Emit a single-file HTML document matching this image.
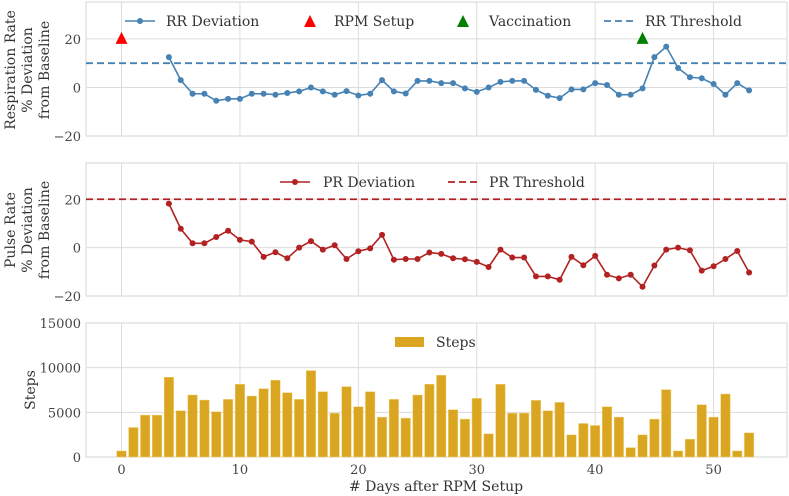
<!DOCTYPE html>
<html><head><meta charset="utf-8"><style>
body{margin:0;background:#fff}
svg{display:block;font-family:"DejaVu Serif","Liberation Serif",serif}
</style></head><body>
<svg id="chart" width="789" height="496" viewBox="0 0 789 496" xmlns="http://www.w3.org/2000/svg"></svg>
<script>
const days = Array.from({length:54},(_,i)=>i);
const rrDays = days.slice(4);
const rrValues = [12.5,3,-2.6,-2.6,-5.5,-4.7,-4.7,-2.6,-2.6,-3,-2.3,-1.6,0,-1.6,-3,-1.5,-3.3,-2.6,3,-1.6,-2.5,2.7,2.7,1.8,1.8,-0.4,-1.8,0,2.3,2.7,2.7,-1,-3.4,-4.4,-0.8,-0.8,1.8,1,-3,-3,-0.4,12.5,16.8,8,4.2,3.8,1.4,-3,1.8,-1.2];
const prValues = [18.2,7.8,1.8,1.8,4.4,7,3.2,2.5,-3.8,-1.9,-4.4,0,2.7,-0.8,1,-4.7,-1.5,-0.3,5.3,-5,-4.7,-4.7,-2,-2.6,-4.4,-4.8,-5.9,-8,-0.8,-4.1,-4.1,-11.9,-11.9,-13.3,-3.8,-7.3,-3.4,-11.2,-12.7,-11.2,-16.2,-7.4,-0.8,0,-1.1,-9.5,-7.7,-4.7,-1.4,-10.3];
const stepValues = [675,3300,4690,4690,8925,5175,6940,6375,5060,6450,8140,6825,7650,8590,7200,6450,9670,7310,4910,7875,5625,7310,4460,6450,4350,6940,8140,9150,5290,4240,6560,2590,8140,4910,4910,6340,5175,6110,2475,3750,3525,5625,4460,1050,2475,4240,7540,675,1990,5850,4460,7050,675,2700];
const rrThreshold = 10, prThreshold = 20;
const rpmSetupDay = 0, vaccinationDay = 44, markerLevel = 20;
const xTicks = [0,10,20,30,40,50];
const devTicks = [-20,0,20];
const stepTicks = [0,5000,10000,15000];

const NS="http://www.w3.org/2000/svg";
const svg=document.getElementById('chart');
function el(tag,attrs,parent,text){const e=document.createElementNS(NS,tag);for(const k in attrs)e.setAttribute(k,attrs[k]);if(text!==undefined)e.textContent=text;(parent||svg).appendChild(e);return e;}
const L=86,R=787;
const xS=d=>L+(d+3)*(R-L)/59.2;
const panels=[{top:2,bot:136,min:-20,max:35.2},{top:163,bot:296,min:-20,max:35},{top:323,bot:457,min:0,max:15000}];
panels.forEach(p=>p.y=v=>p.bot-(v-p.min)*(p.bot-p.top)/(p.max-p.min));

function axes(p,ticks,name,fmt){
  const g=el('g',{},svg);
  
  el('rect',{x:L,y:p.top,width:R-L,height:p.bot-p.top,fill:'#fff',stroke:'#dcdcdc','stroke-width':1.2},g);
  xTicks.forEach(t=>el('line',{x1:xS(t),x2:xS(t),y1:p.top,y2:p.bot,stroke:'#dcdcdc','stroke-width':1},g));
  ticks.forEach(t=>{const y=p.y(t);
    if(t>p.min)el('line',{x1:L,x2:R,y1:y,y2:y,stroke:'#dcdcdc','stroke-width':1},g);
    const tx=el('text',{x:81,y:y+5,'text-anchor':'end','font-size':13,fill:'#444'},g,fmt(t));
    });
  return g;
}
const fmtDev=t=>t<0?'\u2212'+Math.abs(t):String(t);
axes(panels[0],devTicks,'rr',fmtDev);
axes(panels[1],devTicks,'pr',fmtDev);
axes(panels[2],stepTicks,'steps',String);

function ylabel(lines,cx,cy,name){
  const t=el('text',{transform:`translate(${cx},${cy}) rotate(-90)`,'text-anchor':'middle','font-size':14,fill:'#333'});
  
  lines.forEach((s,i)=>el('tspan',{x:0,y:(i-(lines.length-1)/2)*17+5},t,s));
}
ylabel(['Respiration Rate','% Deviation','from Baseline'],27,70,'rr-y-axis-title');
ylabel(['Pulse Rate','% Deviation','from Baseline'],27,230,'pr-y-axis-title');
ylabel(['Steps'],30,390,'steps-y-axis-title');

// x ticks
xTicks.forEach(t=>{const tx=el('text',{x:xS(t),y:474,'text-anchor':'middle','font-size':13,fill:'#444'},svg,String(t));
  });
const xt=el('text',{x:436,y:491,'text-anchor':'middle','font-size':14,fill:'#333'},svg,'# Days after RPM Setup');


function series(p,xs,vals,color,name){
  const pts=xs.map((d,i)=>xS(d)+','+p.y(vals[i])).join(' ');
  const l=el('polyline',{points:pts,fill:'none',stroke:color,'stroke-width':1.6});
  
  xs.forEach((d,i)=>{const c=el('circle',{cx:xS(d),cy:p.y(vals[i]),r:3,fill:color});
    });
}
function threshold(p,v,color,name){
  const l=el('line',{x1:L,x2:R,y1:p.y(v),y2:p.y(v),stroke:color,'stroke-width':1.8,'stroke-dasharray':'7,4'});
  
}
function tri(x,y,color,name){
  const t=el('polygon',{points:`${x},${y-7} ${x-6},${y+5} ${x+6},${y+5}`,fill:color});
  
}
const blue='#4682b4',red='#b22222',gold='#daa520';
threshold(panels[0],rrThreshold,blue,'rr-threshold-line');
series(panels[0],rrDays,rrValues,blue,'rr-deviation');
tri(xS(rpmSetupDay),panels[0].y(markerLevel),'#ff0000','rpm-setup-marker');
tri(xS(vaccinationDay),panels[0].y(markerLevel),'#008000','vaccination-marker');
threshold(panels[1],prThreshold,red,'pr-threshold-line');
series(panels[1],rrDays,prValues,red,'pr-deviation');

const p3=panels[2],bw=(xS(1)-xS(0))*0.8;
days.forEach((d,i)=>{const y=p3.y(stepValues[i]);
  const b=el('rect',{x:xS(d)-bw/2,y:y,width:bw,height:p3.bot-y,fill:gold,stroke:'#f0d070','stroke-width':0.5});
  });

// legends
function legText(x,y,s,name){const t=el('text',{x:x,y:y+5,'font-size':14,fill:'#333'},svg,s);
  }
let g;
el('line',{x1:125,x2:155,y1:21,y2:21,stroke:blue,'stroke-width':1.6});el('circle',{cx:140,cy:21,r:3,fill:blue});
legText(166,21,'RR Deviation','legend-rr-deviation');
tri(310,22,'#ff0000','legend-rpm-marker');legText(334,21,'RPM Setup','legend-rpm-setup');
tri(463,22,'#008000','legend-vaccination-marker');legText(489,21,'Vaccination','legend-vaccination');
el('line',{x1:604,x2:634,y1:21,y2:21,stroke:blue,'stroke-width':1.8,'stroke-dasharray':'7,4'});
legText(645,21,'RR Threshold','legend-rr-threshold');
el('line',{x1:280,x2:310,y1:182,y2:182,stroke:red,'stroke-width':1.6});el('circle',{cx:295,cy:182,r:3,fill:red});
legText(323,182,'PR Deviation','legend-pr-deviation');
el('line',{x1:448,x2:478,y1:182,y2:182,stroke:red,'stroke-width':1.8,'stroke-dasharray':'7,4'});
legText(489,182,'PR Threshold','legend-pr-threshold');
el('rect',{x:395,y:337,width:29,height:10,fill:gold});
legText(436,342,'Steps','legend-steps');
</script>
</body></html>
